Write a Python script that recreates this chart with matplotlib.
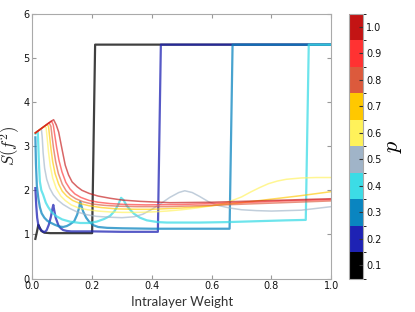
import matplotlib
matplotlib.use("Agg")
import matplotlib.pyplot as plt
from matplotlib.colors import ListedColormap, BoundaryNorm
import matplotlib.colorbar as mcolorbar

p_values = [0.1, 0.2, 0.3, 0.4, 0.5, 0.6, 0.7, 0.8, 0.9, 1.0]
p_colors = ["#000000", "#1e22b4", "#0a85c0", "#3cdce6", "#a0b4c8",
            "#fff25a", "#ffc800", "#dc5a3c", "#ff3232", "#c31414"]

x_p01 = [0.01, 0.015, 0.02, 0.025, 0.03, 0.04, 0.06, 0.2, 0.21, 1.0]
y_p01 = [0.90, 1.05, 1.22, 1.15, 1.08, 1.04, 1.03, 1.03, 5.3, 5.3]

x_p02 = [0.01, 0.013, 0.016, 0.02, 0.025, 0.031, 0.037, 0.042, 0.048, 0.055,
         0.062, 0.067, 0.07, 0.073, 0.078, 0.087, 0.095, 0.103, 0.115, 0.13,
         0.2, 0.3, 0.42, 0.43, 1.0]
y_p02 = [2.05, 1.65, 1.38, 1.21, 1.13, 1.09, 1.06, 1.06, 1.10, 1.22,
         1.40, 1.58, 1.67, 1.55, 1.38, 1.21, 1.14, 1.10, 1.08, 1.07,
         1.07, 1.06, 1.06, 5.3, 5.3]

x_p03 = [0.01, 0.012, 0.015, 0.02, 0.025, 0.031, 0.04, 0.05, 0.06, 0.075,
         0.09, 0.103, 0.115, 0.126, 0.14, 0.15, 0.157, 0.16, 0.164, 0.17,
         0.18, 0.19, 0.204, 0.22, 0.25, 0.3, 0.4, 0.5, 0.6, 0.66, 0.67, 1.0]
y_p03 = [3.20, 2.60, 2.10, 1.82, 1.62, 1.48, 1.38, 1.31, 1.27, 1.22,
         1.18, 1.17, 1.19, 1.23, 1.30, 1.45, 1.62, 1.74, 1.65, 1.52,
         1.38, 1.29, 1.21, 1.17, 1.15, 1.14, 1.13, 1.13, 1.13, 1.13, 5.3, 5.3]

x_p04 = [0.01, 0.018, 0.02, 0.022, 0.025, 0.03, 0.036, 0.045, 0.053, 0.065,
         0.081, 0.1, 0.126, 0.16, 0.19, 0.215, 0.24, 0.26, 0.275, 0.287,
         0.297, 0.305, 0.315, 0.327, 0.34, 0.36, 0.383, 0.42, 0.45, 0.5,
         0.56, 0.65, 0.75, 0.85, 0.915, 0.925, 1.0]
y_p04 = [3.28, 3.34, 3.00, 2.60, 2.20, 2.00, 1.90, 1.72, 1.62, 1.50,
         1.41, 1.34, 1.29, 1.26, 1.26, 1.29, 1.35, 1.42, 1.53, 1.67,
         1.83, 1.78, 1.66, 1.56, 1.47, 1.38, 1.32, 1.28, 1.27, 1.27,
         1.27, 1.28, 1.30, 1.32, 1.33, 5.3, 5.3]

x_p05 = [0.01, 0.02, 0.03, 0.033, 0.036, 0.041, 0.048, 0.058, 0.07, 0.085,
         0.103, 0.125, 0.15, 0.18, 0.215, 0.26, 0.30, 0.34, 0.37, 0.40,
         0.43, 0.46, 0.49, 0.51, 0.535, 0.56, 0.59, 0.62, 0.66, 0.70,
         0.75, 0.80, 0.85, 0.90, 0.95, 1.0]
y_p05 = [3.30, 3.35, 3.40, 3.20, 2.85, 2.50, 2.25, 2.05, 1.90, 1.78,
         1.68, 1.59, 1.51, 1.45, 1.41, 1.39, 1.38, 1.40, 1.46, 1.57,
         1.70, 1.84, 1.95, 1.99, 1.95, 1.86, 1.74, 1.66, 1.60, 1.56,
         1.54, 1.53, 1.54, 1.55, 1.59, 1.63]

x_p06 = [0.01, 0.02, 0.03, 0.04, 0.046, 0.05, 0.054, 0.06, 0.068, 0.08,
         0.095, 0.11, 0.13, 0.155, 0.185, 0.22, 0.26, 0.3, 0.35, 0.4,
         0.45, 0.5, 0.55, 0.6, 0.65, 0.7, 0.73, 0.76, 0.79, 0.82,
         0.85, 0.9, 0.95, 1.0]
y_p06 = [3.30, 3.35, 3.40, 3.45, 3.42, 3.15, 2.87, 2.55, 2.28, 2.04,
         1.87, 1.77, 1.67, 1.60, 1.56, 1.53, 1.51, 1.50, 1.50, 1.51,
         1.53, 1.56, 1.60, 1.65, 1.72, 1.85, 1.96, 2.06, 2.15, 2.21,
         2.25, 2.28, 2.29, 2.29]

x_p07 = [0.01, 0.02, 0.03, 0.04, 0.048, 0.054, 0.058, 0.062, 0.068, 0.076,
         0.088, 0.1, 0.115, 0.135, 0.16, 0.19, 0.23, 0.28, 0.35, 0.4,
         0.5, 0.6, 0.7, 0.8, 0.9, 1.0]
y_p07 = [3.30, 3.35, 3.40, 3.45, 3.49, 3.45, 3.20, 2.95, 2.65, 2.38,
         2.14, 1.98, 1.87, 1.77, 1.70, 1.65, 1.61, 1.58, 1.57, 1.57,
         1.60, 1.65, 1.72, 1.80, 1.88, 1.97]

x_p08 = [0.01, 0.02, 0.03, 0.04, 0.05, 0.056, 0.062, 0.066, 0.071, 0.078,
         0.087, 0.1, 0.113, 0.127, 0.145, 0.17, 0.2, 0.24, 0.29, 0.35,
         0.45, 0.6, 0.8, 1.0]
y_p08 = [3.30, 3.35, 3.40, 3.45, 3.50, 3.53, 3.45, 3.22, 2.95, 2.65,
         2.38, 2.14, 1.99, 1.89, 1.81, 1.74, 1.69, 1.66, 1.64, 1.63,
         1.63, 1.66, 1.71, 1.76]

x_p09 = [0.01, 0.02, 0.03, 0.04, 0.05, 0.06, 0.064, 0.07, 0.075, 0.081,
         0.089, 0.099, 0.112, 0.126, 0.142, 0.162, 0.19, 0.22, 0.26, 0.31,
         0.38, 0.5, 0.7, 0.85, 1.0]
y_p09 = [3.30, 3.35, 3.40, 3.45, 3.50, 3.55, 3.57, 3.48, 3.25, 2.98,
         2.68, 2.42, 2.18, 2.03, 1.92, 1.84, 1.77, 1.73, 1.70, 1.68,
         1.67, 1.68, 1.72, 1.76, 1.79]

x_p10 = [0.01, 0.02, 0.03, 0.04, 0.05, 0.06, 0.071, 0.08, 0.088, 0.099,
         0.11, 0.121, 0.133, 0.15, 0.166, 0.19, 0.22, 0.26, 0.3, 0.36,
         0.46, 0.6, 0.8, 1.0]
y_p10 = [3.30, 3.35, 3.40, 3.45, 3.50, 3.55, 3.60, 3.48, 3.32, 2.94,
         2.57, 2.35, 2.19, 2.08, 2.00, 1.93, 1.87, 1.82, 1.78, 1.75,
         1.72, 1.73, 1.77, 1.81]

series_x = [x_p01, x_p02, x_p03, x_p04, x_p05, x_p06, x_p07, x_p08, x_p09, x_p10]
series_y = [y_p01, y_p02, y_p03, y_p04, y_p05, y_p06, y_p07, y_p08, y_p09, y_p10]

x_ticks = [0.0, 0.2, 0.4, 0.6, 0.8, 1.0]
y_ticks = [0, 1, 2, 3, 4, 5, 6]

plt.rcParams['mathtext.fontset'] = 'cm'

fig = plt.figure(figsize=(4.15, 3.12), dpi=100)
ax = fig.add_axes([0.078, 0.107, 0.72, 0.849])

for i, (xs, ys) in enumerate(zip(series_x, series_y)):
    lw = 1.6 if i < 4 else 1.1
    al = 0.75 if i < 4 else 0.65
    ax.plot(xs, ys, color=p_colors[i], lw=lw, alpha=al)

ax.set_xlim(0, 1)
ax.set_ylim(0, 6)
ax.set_xticks(x_ticks)
ax.set_yticks(y_ticks)
ax.set_xticklabels([f"{t:.1f}" for t in x_ticks])
ax.set_yticklabels([str(t) for t in y_ticks])
ax.tick_params(direction='in', top=True, right=True, labelsize=7,
               length=3, color='#999999', pad=2, labelcolor='#111111')
for s in ax.spines.values():
    s.set_color('#aaaaaa')
ax.set_xlabel("Intralayer Weight", fontsize=9.5,
              family=['Lato', 'DejaVu Sans'], color='#333333', labelpad=3)
ax.set_ylabel(r"$S(f^2)$", fontsize=12, labelpad=1, color='#222222')

cax = fig.add_axes([0.842, 0.107, 0.0337, 0.849])
cmap = ListedColormap(p_colors)
bounds = [0.05 + 0.1 * k for k in range(11)]
norm = BoundaryNorm(bounds, cmap.N)
cb = mcolorbar.ColorbarBase(cax, cmap=cmap, norm=norm, boundaries=bounds,
                            ticks=p_values, spacing='proportional')
cb.set_ticklabels([f"{v:.1f}" for v in p_values])
cb.outline.set_edgecolor('#aaaaaa')
cax.tick_params(labelsize=7, length=3, direction='in', color='#333333', pad=2,
                labelcolor='#111111')
cb.set_label(r"$p$", fontsize=16, labelpad=2)

fig.savefig("out.png", dpi=100)
